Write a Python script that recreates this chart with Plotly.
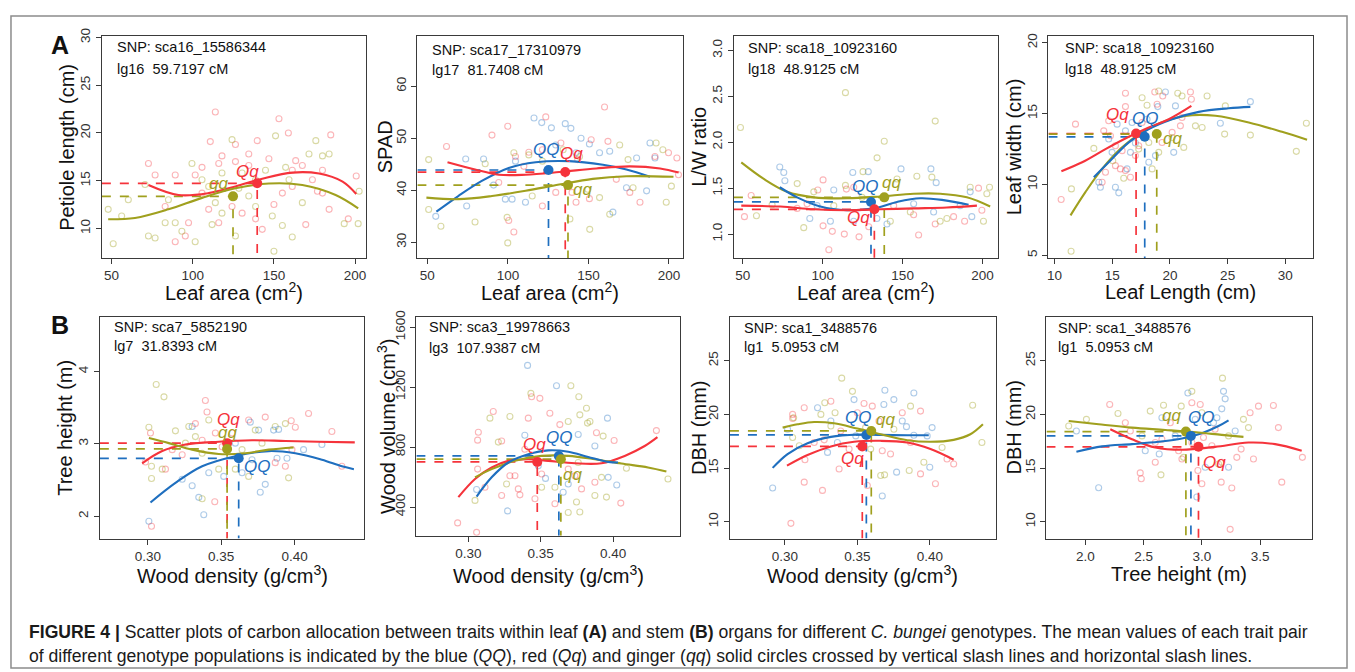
import plotly.graph_objects as go

W, H = 1355, 672
COL = {"QQ": "#1F6FBF", "Qq": "#F5333B", "qq": "#A0A01E"}
PALE = {"QQ": "rgba(31,111,191,0.36)", "Qq": "rgba(245,51,59,0.36)", "qq": "rgba(160,160,30,0.40)"}
FONT = "Liberation Sans, Arial, Helvetica, sans-serif"

# ---------------- Panel A1: Petiole length vs Leaf area ----------------
a1_Qq_pts = [(72.7,16.8),(110.8,19.1),(113.9,22.2),(118,17.6),(126.3,17.0),(134.5,17.8),(139.7,19.2),(153.1,21.5),
             (158.9,20.0),(161.3,16.1),(163.4,17.1),(173.7,15.1),(179.9,16.1),(185,19.8),(89.2,15.6),(101.5,15.6),
             (105.7,13.7),(109.8,12.0),(116,10.6),(124.2,12.3),(130.4,11.6),(138.7,11.0),(142.8,9.9),(150,12.5),
             (155.2,13.7),(161.3,14.4),(169.6,10.4),(179.9,13.7),(184,12.0),(95.4,9.2),(89.2,8.6),(126.3,18.8),
             (134.5,16.6),(146.9,17.3),(97.4,10.6),(167.5,16.6),(176.8,13.9),(105.7,16.4),(116,16.8),(83,12.3),
             (76.8,15.6),(200.7,15.5),(195.8,11.0)]
a1_qq_pts = [(47.9,12.0),(56.2,11.3),(72.7,9.2),(76.8,9.0),(83,10.6),(89.2,10.6),(93.3,9.7),(99.5,16.8),(101.5,8.6),
             (105.7,15.1),(109.8,14.4),(111.9,10.4),(113.9,12.7),(118,11.6),(124.2,19.3),(126.3,9.2),(128.4,14.2),
             (134.5,13.4),(138.7,15.1),(144.8,16.1),(149,11.3),(150,7.6),(155.2,10.3),(159.3,15.1),(161.3,9.1),
             (171.6,17.8),(175.8,19.2),(179.9,17.6),(184,17.8),(60.3,13.0),(70.6,14.6),(85,13.0),(118,15.8),
             (130.4,15.8),(151,19.7),(157.2,16.4),(167.5,12.7),(138.7,12.3),(193.3,10.5),(201.9,10.5),(202.5,13.9),(51,8.4)]
a1_Qq_curve = [(72.7,14.55),(91.2,13.5),(109.8,13.7),(126.3,14.4),(142.8,15.2),(161.3,15.85),(177.8,15.75),(192.3,14.9),(200.7,13.6)]
a1_qq_curve = [(47.9,10.96),(64.4,11.1),(85,12.0),(105.7,13.2),(126.3,14.2),(146.9,14.7),(167.5,14.55),(188,13.5),(201.9,12.1)]
a1_means = [("Qq", 139.7, 14.73), ("qq", 124.8, 13.36)]

# ---------------- Panel A2: SPAD vs Leaf area ----------------
a2_QQ_pts = [(55.2,35.0),(73.8,46.0),(84.9,46.0),(91.1,41.0),(98.4,38.3),(104.7,45.6),(110.9,37.7),(116.2,53.9),(121,53.0),
             (127,52.0),(129.7,48.7),(135.6,52.8),(139.1,51.9),(142.3,47.2),(145.4,50.0),(150.6,48.9),(156.9,47.2),
             (163.2,47.5),(165.2,35.8),(173.6,40.5),(179.9,46.2),(186.1,39.9),(188.2,49.1),(191.3,46.2),(74.4,37.0),(102.6,38.3)]
a2_Qq_pts = [(61.9,48.4),(90.1,50.6),(99.9,52.3),(123.5,54.1),(132.9,49.1),(143.3,45.9),(151.7,49.7),(160,56.0),(162.1,49.4),
             (104.7,46.5),(113,47.3),(121.4,47.8),(100.5,34.2),(103.7,32.0),(109.9,44.6),(121.4,37.0),(129.7,39.6),
             (142.3,37.7),(150.6,38.4),(167.3,42.1),(175.7,39.6),(182,37.7),(191.3,46.5),(199.7,47.2),(204.9,46.2),
             (205.9,43.0),(94.3,41.5),(139.8,39.6)]
a2_qq_pts = [(50.8,36.3),(50.8,45.9),(58.4,33.1),(79.6,33.9),(85.9,45.1),(99.5,34.8),(99.9,29.9),(103.7,47.2),(113,46.8),
             (115.1,38.9),(121.4,45.6),(134.3,47.8),(138.5,34.5),(144.5,46.5),(150.8,32.5),(156.9,38.6),(163.2,35.4),
             (169.4,48.7),(174.6,45.9),(177.7,40.5),(192,49.1),(196.2,47.8),(198.3,37.7),(201.5,40.8),(149.6,40.2)]
a2_QQ_curve = [(55.6,35.9),(69.2,38.9),(83.8,41.8),(100.5,44.3),(117.2,45.4),(138.1,45.6),(159,44.9),(173.6,44.0),(188.2,42.6)]
a2_Qq_curve = [(62.5,45.4),(79.6,44.0),(94.3,43.0),(111,43.0),(131.8,43.5),(154.8,44.2),(175.7,44.6),(194.5,44.2),(206,43.4)]
a2_qq_curve = [(49.4,38.6),(69.2,38.3),(90.1,38.9),(111,39.9),(131.8,41.1),(152.7,42.2),(173.6,42.7),(202.8,42.6)]
a2_means = [("QQ", 125.2, 43.9), ("Qq", 135.6, 43.5), ("qq", 137.3, 41.0)]

# ---------------- Panel A3: L/W ratio vs Leaf area ----------------
a3_QQ_pts = [(73.1,1.73),(76.3,1.58),(75.6,1.67),(118.8,1.67),(128.5,1.68),(149,1.71),(167.7,1.71),(171,1.56),(91.9,1.17),
             (96.5,1.31),(106.9,1.48),(119.4,1.14),(133.9,1.17),(140.2,1.11),(156.9,1.33),(186,1.31),(192.3,1.46),
             (193.3,1.19),(104.8,1.14),(169.4,1.24)]
a3_Qq_pts = [(55.2,1.42),(51,1.19),(100.2,1.59),(96.9,1.48),(114.8,1.49),(119.4,1.51),(100.2,1.09),(103.8,0.83),(106,1.03),
             (113.5,1.0),(122.7,0.97),(128.8,1.08),(160,0.99),(170.4,1.11),(181.9,1.19),(188.8,1.14),(197.5,1.50),
             (199.6,1.26),(144.4,1.31),(156.9,1.21),(90.2,1.33),(84,1.28)]
a3_qq_pts = [(48.5,2.16),(114.2,2.54),(138.5,2.01),(170.4,2.23),(134,1.83),(125.2,1.68),(84,1.55),(114.2,1.53),(146.5,1.60),
             (158.9,1.63),(168.3,1.62),(192.3,1.51),(204.4,1.51),(58.5,1.20),(88.1,1.07),(106.9,1.31),(124.6,1.40),
             (142.3,1.14),(154.8,1.24),(173.5,1.14),(177.7,1.17),(200.6,1.14),(202.7,1.44),(68.3,1.32),(94.4,1.46)]
a3_QQ_curve = [(73.1,1.51),(84,1.40),(98.5,1.30),(115.2,1.26),(131.9,1.28),(146.5,1.35),(161,1.39),(175.6,1.37),(191.3,1.32)]
a3_Qq_curve = [(49,1.31),(73.5,1.30),(94.4,1.27),(115.2,1.26),(136,1.27),(156.9,1.28),(177.7,1.29),(196.5,1.31)]
a3_qq_curve = [(49,1.78),(63.1,1.60),(77.7,1.46),(94.4,1.40),(115.2,1.39),(136,1.41),(156.9,1.44),(173.5,1.44),(190.2,1.40),(204.8,1.30)]
a3_means = [("QQ", 130.2, 1.35), ("Qq", 132.3, 1.27), ("qq", 138.5, 1.40)]

# ---------------- Panel A4: Leaf width vs Leaf length ----------------
a4_Qq_pts = [(10.58,8.93),(11.82,14.25),(16.15,16.43),(16.15,15.49),(18.69,16.52),(19.38,16.24),(21.78,16.52),(21.86,16.01),
             (14.7,14.49),(14.27,13.78),(14.85,13.43),(15.28,12.73),(15.86,12.38),(15.28,11.32),(15.71,11.09),(16.15,10.97),
             (16.58,10.5),(14.42,10.85),(14.13,10.15),(19.32,12.96),(20.19,13.67),(20.91,14.13),(18.89,15.66),(17.59,14.37),
             (17.3,12.73),(17.01,12.03),(21.05,14.72)]
a4_QQ_pts = [(15.43,14.25),(16.72,14.37),(18.02,14.6),(18.95,15.49),(19.61,16.52),(20.48,15.54),(20.33,12.26),(14.99,12.26),
             (13.84,10.15),(13.98,9.8),(15.28,9.8),(15.57,9.4),(16.29,11.09),(16.58,12.26),(14.7,13.2),(16.15,13.78),
             (24.37,14.32),(26.97,15.84),(18.17,11.56),(18.75,12.03),(17.01,12.92)]
a4_qq_pts = [(11.44,5.28),(11.47,9.68),(13.41,12.54),(17.59,16.12),(18.02,15.59),(19.03,16.59),(20.68,16.43),(21.05,16.24),
             (23.22,16.24),(24.8,15.54),(24.74,13.55),(26.97,13.48),(30.95,12.33),(31.82,14.32),(15.05,11.67),(16.0,10.43),
             (17.3,12.49),(19.03,12.26),(20.19,13.31),(21.2,12.61),(22.21,14.13),(22.79,14.02),(18.46,11.09),(18.17,12.96)]
a4_Qq_curve = [(10.6,10.93),(12.4,11.56),(14.42,12.49),(16.44,13.36),(18.17,14.02),(19.9,14.6),(21.86,15.54)]
a4_QQ_curve = [(13.41,10.5),(14.7,11.56),(16.44,12.96),(18.17,13.9),(20.19,14.6),(22.5,15.12),(25.09,15.37),(26.97,15.47)]
a4_qq_curve = [(11.39,7.81),(12.68,9.45),(14.13,11.09),(15.86,12.61),(17.59,13.67),(19.61,14.48),(21.92,14.88),(23.94,14.84),
               (26.83,14.37),(29.71,13.71),(31.88,13.15)]
a4_means = [("Qq", 17.07, 13.59), ("QQ", 17.82, 13.36), ("qq", 18.86, 13.55)]

# ---------------- Panel B1: Tree height vs Wood density ----------------
b1_Qq_pts = [(0.3025,1.86),(0.2984,2.75),(0.3018,3.15),(0.312,2.65),(0.3234,2.85),(0.3324,3.28),(0.3392,3.60),(0.3403,3.44),
             (0.3456,2.20),(0.346,3.15),(0.3574,3.15),(0.3687,3.33),(0.38,3.37),(0.3868,2.74),(0.3937,2.69),(0.3977,3.32),
             (0.4005,3.23),(0.4095,3.42),(0.4254,3.17),(0.4322,2.69),(0.337,3.05),(0.3506,2.96),(0.3166,2.92),(0.3982,2.92)]
b1_QQ_pts = [(0.3007,1.93),(0.3234,2.51),(0.3302,2.42),(0.3302,3.24),(0.3347,2.26),(0.3381,2.02),(0.3415,2.60),(0.3596,3.01),
             (0.3642,2.60),(0.3698,3.30),(0.3755,3.19),(0.3766,2.33),(0.38,2.44),(0.3857,3.19),(0.388,2.80),(0.3891,3.20),
             (0.3948,2.80),(0.4061,2.92),(0.4186,2.99),(0.3517,2.55),(0.371,2.78)]
b1_qq_pts = [(0.3057,3.82),(0.311,3.65),(0.3007,3.23),(0.3025,2.69),(0.3025,2.52),(0.3188,3.18),(0.3279,3.24),(0.337,2.24),
             (0.3483,2.65),(0.3596,2.65),(0.3687,2.55),(0.3732,3.19),(0.3868,3.24),(0.3937,3.28),(0.3959,2.53),(0.337,2.87),
             (0.3415,3.33),(0.3324,3.10),(0.3256,3.01),(0.3642,2.92),(0.3778,3.01),(0.3098,2.65)]
b1_Qq_curve = [(0.2961,2.73),(0.3098,2.90),(0.3256,2.99),(0.3483,3.03),(0.371,3.05),(0.3937,3.04),(0.4163,3.03),(0.441,3.02)]
b1_qq_curve = [(0.3007,3.08),(0.3143,3.01),(0.3302,2.92),(0.3483,2.86),(0.3664,2.87),(0.3823,2.92),(0.3993,2.95)]
b1_QQ_curve = [(0.3018,2.19),(0.3188,2.46),(0.337,2.69),(0.3596,2.83),(0.3823,2.90),(0.4005,2.87),(0.4186,2.78),(0.4322,2.69),(0.4404,2.65)]
b1_means = [("Qq", 0.354, 3.01), ("qq", 0.354, 2.93), ("QQ", 0.3619, 2.80)]

# ---------------- Panel B2: Wood volume vs Wood density ----------------
b2_Qq_pts = [(0.2926,294),(0.3057,231),(0.3069,899),(0.3064,846),(0.3064,653),(0.3115,532),(0.3172,1037),(0.323,840),
             (0.3287,609),(0.3322,609),(0.3345,521),(0.3356,481),(0.339,785),(0.3414,993),(0.3437,1136),(0.3494,1125),
             (0.3506,620),(0.3563,1026),(0.3632,950),(0.3598,422),(0.369,653),(0.3736,609),(0.3782,521),(0.3885,895),
             (0.4007,844),(0.4053,426),(0.4299,910),(0.3874,565),(0.323,477),(0.346,455)]
b2_QQ_pts = [(0.3409,1345),(0.3609,1209),(0.3271,374),(0.3057,517),(0.339,879),(0.3533,591),(0.3655,499),(0.369,554),
             (0.3759,884),(0.3961,993),(0.3966,598),(0.4025,547),(0.3874,807),(0.3483,675)]
b2_qq_pts = [(0.3046,444),(0.3149,993),(0.3287,1004),(0.3207,833),(0.3264,554),(0.3432,1158),(0.3506,532),(0.3598,532),
             (0.3708,1209),(0.369,971),(0.3763,1136),(0.377,1015),(0.3816,1059),(0.3823,960),(0.384,971),(0.3747,433),
             (0.369,363),(0.377,367),(0.3874,477),(0.3954,466),(0.392,598),(0.4092,659),(0.4379,587),(0.3759,697),(0.3931,873)]
b2_Qq_curve = [(0.2931,466),(0.3046,587),(0.3161,664),(0.3276,708),(0.3414,719),(0.3552,708),(0.3736,692),(0.392,692),
               (0.408,741),(0.4218,807),(0.4306,866)]
b2_qq_curve = [(0.3046,598),(0.3161,653),(0.3322,708),(0.3506,741),(0.369,741),(0.3874,719),(0.4057,690),(0.4241,664),(0.4368,637)]
b2_QQ_curve = [(0.3057,470),(0.3161,598),(0.3276,697),(0.3414,752),(0.3552,778),(0.369,769),(0.3828,734),(0.3966,701),(0.4034,697)]
b2_means = [("Qq", 0.3476, 701), ("QQ", 0.3625, 741), ("qq", 0.3639, 719)]

# ---------------- Panel B3: DBH vs Wood density ----------------
b3_QQ_pts = [(0.2915,13.14),(0.3018,18.62),(0.3225,20.62),(0.3294,16.46),(0.3317,19.38),(0.3477,21.38),(0.3489,18.0),
             (0.3683,20.92),(0.369,22.25),(0.3672,12.4),(0.3752,21.38),(0.3771,14.62),(0.381,19.38),(0.3839,18.86),
             (0.389,22.0),(0.389,18.06),(0.3982,18.0),(0.4,15.08),(0.4016,18.77),(0.3362,17.38)]
b3_Qq_pts = [(0.3041,9.85),(0.3053,20.0),(0.3053,19.63),(0.3133,20.62),(0.3133,13.69),(0.3138,15.78),(0.3259,12.92),
             (0.3271,17.63),(0.3317,21.23),(0.3374,14.92),(0.3443,16.77),(0.35,20.15),(0.3546,21.02),(0.3603,20.77),
             (0.3649,19.38),(0.3672,16.62),(0.3729,16.31),(0.381,20.15),(0.3867,17.38),(0.3936,20.31),(0.3936,14.46),
             (0.4039,13.54),(0.4119,15.85),(0.4165,15.38),(0.3569,13.38),(0.3385,18.46),(0.3202,17.38)]
b3_qq_pts = [(0.306,19.69),(0.3053,17.85),(0.3099,17.08),(0.3248,20.0),(0.3275,21.08),(0.3392,23.38),(0.3346,20.15),
             (0.3466,22.15),(0.3557,18.77),(0.3592,16.77),(0.3661,14.31),(0.3688,14.37),(0.3867,20.77),(0.3858,14.77),
             (0.3959,15.54),(0.4085,16.92),(0.4296,20.86),(0.436,17.38),(0.3317,18.92),(0.3752,18.62)]
b3_qq_curve = [(0.2984,18.77),(0.3087,19.08),(0.3202,19.29),(0.3339,19.17),(0.35,18.68),(0.3661,18.15),(0.3844,17.6),
               (0.4005,17.45),(0.4165,17.63),(0.428,18.15),(0.4367,19.08)]
b3_QQ_curve = [(0.2915,15.02),(0.3018,16.31),(0.3156,17.32),(0.3317,17.91),(0.35,18.12),(0.3661,18.09),(0.3844,18.06),(0.3993,18.06)]
b3_Qq_curve = [(0.3014,15.23),(0.3156,16.22),(0.3317,17.02),(0.3477,17.45),(0.3661,17.54),(0.3844,17.38),(0.4005,16.77),(0.4165,15.78)]
b3_means = [("Qq", 0.3534, 17.02), ("QQ", 0.3562, 18.09), ("qq", 0.3596, 18.46)]

# ---------------- Panel B4: DBH vs Tree height ----------------
b4_Qq_pts = [(2.209,20.92),(2.343,19.23),(2.386,18.46),(2.471,14.55),(2.48,14.0),(2.6,15.54),(2.657,17.69),(2.729,19.23),
             (2.8,16.62),(2.914,21.08),(2.986,20.92),(3.0,13.54),(2.966,14.77),(3.014,17.85),(3.086,17.08),(3.166,13.69),
             (3.171,15.54),(3.243,9.29),(3.257,13.14),(3.3,16.0),(3.337,16.77),(3.414,20.15),(3.443,15.85),(3.486,20.77),
             (3.614,20.83),(3.657,18.77),(3.686,13.69),(3.863,16.0),(2.6,17.38),(2.914,17.38),(2.829,15.85),(3.114,18.62)]
b4_QQ_pts = [(1.923,18.46),(2.114,13.17),(2.514,16.62),(2.634,16.31),(2.657,19.69),(2.88,22.0),(2.943,19.54),(2.957,12.31),
             (3.029,15.08),(3.1,19.23),(3.129,19.69),(3.171,20.52),(3.186,22.15),(3.2,21.45),(3.229,15.08),(3.286,18.46),(2.771,18.0)]
b4_qq_pts = [(1.857,18.92),(2.009,19.54),(2.28,20.09),(2.557,20.31),(2.649,14.37),(2.671,20.86),(2.823,20.77),(2.843,16.0),
             (2.914,22.15),(3.143,15.38),(3.177,23.38),(3.229,18.0),(3.357,19.54),(3.4,18.77),(2.486,18.0),(3.0,20.15)]
b4_qq_curve = [(1.857,19.38),(2.114,19.08),(2.4,18.77),(2.686,18.55),(2.971,18.31),(3.171,18.09),(3.357,17.91)]
b4_QQ_curve = [(1.923,16.52),(2.143,17.02),(2.4,17.23),(2.629,17.45),(2.829,17.75),(3.0,18.25),(3.143,18.92),(3.229,19.45)]
b4_Qq_curve = [(2.214,18.62),(2.4,17.69),(2.6,16.92),(2.829,16.71),(3.114,16.98),(3.4,17.38),(3.629,17.23),(3.857,16.62)]
b4_means = [("qq", 2.863, 18.4), ("QQ", 2.906, 18.0), ("Qq", 2.971, 16.98)]

# tick labels
leaf_area_ticks = ["50", "100", "150", "200"]
density_ticks = ["0.30", "0.35", "0.40"]

DATA = {
    "a1": dict(pts={"Qq": a1_Qq_pts, "qq": a1_qq_pts}, curve={"Qq": a1_Qq_curve, "qq": a1_qq_curve}, means=a1_means),
    "a2": dict(pts={"QQ": a2_QQ_pts, "Qq": a2_Qq_pts, "qq": a2_qq_pts}, curve={"QQ": a2_QQ_curve, "Qq": a2_Qq_curve, "qq": a2_qq_curve}, means=a2_means),
    "a3": dict(pts={"QQ": a3_QQ_pts, "Qq": a3_Qq_pts, "qq": a3_qq_pts}, curve={"qq": a3_qq_curve, "QQ": a3_QQ_curve, "Qq": a3_Qq_curve}, means=a3_means),
    "a4": dict(pts={"QQ": a4_QQ_pts, "Qq": a4_Qq_pts, "qq": a4_qq_pts}, curve={"qq": a4_qq_curve, "QQ": a4_QQ_curve, "Qq": a4_Qq_curve}, means=a4_means),
    "b1": dict(pts={"QQ": b1_QQ_pts, "Qq": b1_Qq_pts, "qq": b1_qq_pts}, curve={"QQ": b1_QQ_curve, "Qq": b1_Qq_curve, "qq": b1_qq_curve}, means=b1_means),
    "b2": dict(pts={"QQ": b2_QQ_pts, "Qq": b2_Qq_pts, "qq": b2_qq_pts}, curve={"Qq": b2_Qq_curve, "qq": b2_qq_curve, "QQ": b2_QQ_curve}, means=b2_means),
    "b3": dict(pts={"QQ": b3_QQ_pts, "Qq": b3_Qq_pts, "qq": b3_qq_pts}, curve={"Qq": b3_Qq_curve, "QQ": b3_QQ_curve, "qq": b3_qq_curve}, means=b3_means),
    "b4": dict(pts={"QQ": b4_QQ_pts, "Qq": b4_Qq_pts, "qq": b4_qq_pts}, curve={"Qq": b4_Qq_curve, "QQ": b4_QQ_curve, "qq": b4_qq_curve}, means=b4_means),
}

# layout / style per panel (pixel boxes, ranges, label offsets)
PANELS = [
    dict(key="a1", box=(100, 365, 28, 253), xr=[44, 207], yr=[6.9, 30.2],
         xt=[50, 100, 150, 200], xtt=leaf_area_ticks, yt=[10, 15, 20, 25, 30], ytt=["10", "15", "20", "25", "30"],
         xtitle="Leaf area (cm<sup>2</sup>)", ytitle="Petiole length (cm)", ytx=65,
         snp="SNP: sca16_15586344", lg="lg16\u00a0 59.7197 cM", snp_xy=(113, 39, 62),
         lab={"Qq": (-10, 12), "qq": (-15, 13)}),
    dict(key="a2", box=(416, 682, 28, 253), xr=[43.8, 208.7], yr=[27, 69.7],
         xt=[50, 100, 150, 200], xtt=leaf_area_ticks, yt=[30, 40, 50, 60], ytt=["30", "40", "50", "60"],
         xtitle="Leaf area (cm<sup>2</sup>)", ytitle="SPAD", ytx=383,
         snp="SNP: sca17_17310979", lg="lg17\u00a0 81.7408 cM", snp_xy=(429, 43, 63),
         lab={"QQ": (-2, 20), "Qq": (6, 19), "qq": (15, -4)}),
    dict(key="a3", box=(733, 997, 28, 253), xr=[44.4, 209.4], yr=[0.74, 3.16],
         xt=[50, 100, 150, 200], xtt=leaf_area_ticks, yt=[1.0, 1.5, 2.0, 2.5, 3.0], ytt=["1.0", "1.5", "2.0", "2.5", "3.0"],
         xtitle="Leaf area (cm<sup>2</sup>)", ytitle="L/W ratio", ytx=698,
         snp="SNP: sca18_10923160", lg="lg18\u00a0 48.9125 cM", snp_xy=(745, 40, 62),
         lab={"QQ": (-6, 15), "qq": (7, 15), "Qq": (-16, -8)}),
    dict(key="a4", box=(1048, 1313, 28, 253), xr=[9.48, 32.4], yr=[4.8, 20.5],
         xt=[10, 15, 20, 25, 30], xtt=["10", "15", "20", "25", "30"], yt=[5, 10, 15, 20], ytt=["5", "10", "15", "20"],
         xtitle="Leaf Length (cm)", ytitle="Leaf width (cm)", ytx=1013,
         snp="SNP: sca18_10923160", lg="lg18\u00a0 48.9125 cM", snp_xy=(1063, 40, 62),
         lab={"Qq": (-19, 19), "QQ": (0, 18), "qq": (16, -4)}),
    dict(key="b1", box=(98, 363, 313, 537), xr=[0.2673, 0.4476], yr=[1.69, 4.75],
         xt=[0.30, 0.35, 0.40], xtt=density_ticks, yt=[2, 3, 4], ytt=["2", "3", "4"],
         xtitle="Wood density (g/cm<sup>3</sup>)", ytitle="Tree height (m)", ytx=63,
         snp="SNP: sca7_5852190", lg="lg7\u00a0 31.8393 cM", snp_xy=(110, 323, 342),
         lab={"Qq": (1, 24), "qq": (0, 16), "QQ": (18, -8)}),
    dict(key="b2", box=(415, 679, 313, 534), xr=[0.2641, 0.4462], yr=[209, 1666],
         xt=[0.30, 0.35, 0.40], xtt=density_ticks, yt=[400, 800, 1200, 1600], ytt=["400", "800", "1200", "1600"],
         xtitle="Wood density (g/cm<sup>3</sup>)", ytitle="Wood volume (cm<sup>3</sup>)", ytx=385,
         snp="SNP: sca3_19978663", lg="lg3\u00a0 107.9387 cM", snp_xy=(426, 323, 344),
         lab={"Qq": (-3, 17), "QQ": (0, 18), "qq": (12, -15)}),
    dict(key="b3", box=(729, 995, 313, 537), xr=[0.262, 0.4454], yr=[8.43, 29.05],
         xt=[0.30, 0.35, 0.40], xtt=density_ticks, yt=[10, 15, 20, 25], ytt=["10", "15", "20", "25"],
         xtitle="Wood density (g/cm<sup>3</sup>)", ytitle="DBH (mm)", ytx=698,
         snp="SNP: sca1_3488576", lg="lg1\u00a0 5.0953 cM", snp_xy=(741, 324, 343),
         lab={"QQ": (-8, 17), "qq": (14, 11), "Qq": (-10, -12)}),
    dict(key="b4", box=(1046, 1312, 313, 537), xr=[1.666, 3.946], yr=[8.43, 29.05],
         xt=[2.0, 2.5, 3.0, 3.5], xtt=["2.0", "2.5", "3.0", "3.5"], yt=[10, 15, 20, 25], ytt=["10", "15", "20", "25"],
         xtitle="Tree height (m)", ytitle="DBH (mm)", ytx=1013,
         snp="SNP: sca1_3488576", lg="lg1\u00a0 5.0953 cM", snp_xy=(1056, 324, 343),
         lab={"qq": (-14, 16), "QQ": (10, 18), "Qq": (16, -16)}),
]


def px(x):
    return x / W


def py(y):
    return 1 - y / H


fig = go.Figure()
layout = {}
ann = []
AXLINE = "#3a3a3a"

for i, p in enumerate(PANELS, start=1):
    sfx = "" if i == 1 else str(i)
    xa, ya = "x" + sfx, "y" + sfx
    d = DATA[p["key"]]
    x0, x1, y0, y1 = p["box"]
    # scatter of individuals
    for g, pts in d["pts"].items():
        fig.add_trace(go.Scatter(
            x=[a for a, _ in pts], y=[b for _, b in pts], mode="markers",
            marker=dict(symbol="circle-open", size=6, color=PALE[g], line=dict(width=1.1)),
            xaxis=xa, yaxis=ya, showlegend=False, hoverinfo="skip"))
    # dashed guide lines from axes to the genotype means
    for g, mx, my in d["means"]:
        fig.add_trace(go.Scatter(
            x=[p["xr"][0], mx, mx], y=[my, my, p["yr"][0]], mode="lines",
            line=dict(color=COL[g], width=1.7, dash="dash"),
            xaxis=xa, yaxis=ya, showlegend=False, hoverinfo="skip"))
    # smooth fits
    for g, cv in d["curve"].items():
        fig.add_trace(go.Scatter(
            x=[a for a, _ in cv], y=[b for _, b in cv], mode="lines",
            line=dict(color=COL[g], width=2.1, shape="spline", smoothing=1.0),
            xaxis=xa, yaxis=ya, showlegend=False, hoverinfo="skip"))
    # mean points + labels
    for g, mx, my in d["means"]:
        fig.add_trace(go.Scatter(
            x=[mx], y=[my], mode="markers", marker=dict(color=COL[g], size=10),
            xaxis=xa, yaxis=ya, showlegend=False, hoverinfo="skip"))
        dx, dy = p["lab"][g]
        ann.append(dict(x=mx, y=my, xref=xa, yref=ya, xshift=dx, yshift=dy, showarrow=False,
                        text="<i>%s</i>" % g, font=dict(family=FONT, size=17, color=COL[g])))

    common = dict(showline=True, mirror=True, linecolor=AXLINE, linewidth=1.3, ticks="outside", ticklen=5,
                  tickwidth=1.2, tickcolor=AXLINE, showgrid=False, zeroline=False,
                  tickfont=dict(family=FONT, size=13.5, color="#333333"))
    layout["xaxis" + sfx] = dict(common, domain=[px(x0), px(x1)], range=p["xr"], anchor=ya,
                                 tickmode="array", tickvals=p["xt"], ticktext=p["xtt"])
    layout["yaxis" + sfx] = dict(common, domain=[py(y1), py(y0)], range=p["yr"], anchor=xa,
                                 tickmode="array", tickvals=p["yt"], ticktext=p["ytt"], tickangle=-90)
    # axis titles
    title_y = 287 if y0 < 300 else 573
    ann.append(dict(x=px((x0 + x1) / 2), y=py(title_y), xref="paper", yref="paper", showarrow=False,
                    text=p["xtitle"], font=dict(family=FONT, size=20, color="#111111"),
                    xanchor="center", yanchor="middle"))
    ann.append(dict(x=px(p["ytx"]), y=py((y0 + y1) / 2), xref="paper", yref="paper", showarrow=False,
                    text=p["ytitle"], textangle=-90, font=dict(family=FONT, size=20, color="#111111"),
                    xanchor="center", yanchor="middle"))
    sx, sy1, sy2 = p["snp_xy"]
    for txt, yy in ((p["snp"], sy1), (p["lg"], sy2)):
        ann.append(dict(x=px(sx), y=py(yy), xref="paper", yref="paper", showarrow=False, text=txt,
                        font=dict(family=FONT, size=14.5, color="#111111"), xanchor="left", yanchor="middle"))

# panel letters
for letter, yy in (("A", 37), ("B", 321)):
    ann.append(dict(x=px(58), y=py(yy), xref="paper", yref="paper", showarrow=False, text="<b>%s</b>" % letter,
                    font=dict(family=FONT, size=25, color="#111111"), xanchor="center", yanchor="middle"))

# caption
cap1 = ("<b>FIGURE 4 |</b> Scatter plots of carbon allocation between traits within leaf <b>(A)</b> and stem "
        "<b>(B)</b> organs for different <i>C. bungei</i> genotypes. The mean values of each trait pair")
cap2 = ("of different genotype populations is indicated by the blue (<i>QQ</i>), red (<i>Qq</i>) and ginger "
        "(<i>qq</i>) solid circles crossed by vertical slash lines and horizontal slash lines.")
for txt, yy in ((cap1, 632), (cap2, 656)):
    ann.append(dict(x=px(25), y=py(yy), xref="paper", yref="paper", showarrow=False, text=txt,
                    font=dict(family=FONT, size=17.6, color="#1a1a1a"), xanchor="left", yanchor="middle"))

shapes = [dict(type="rect", xref="paper", yref="paper", x0=px(9), x1=px(1347), y0=py(668), y1=py(8),
               line=dict(color="#8c8c8c", width=1.5), fillcolor="rgba(0,0,0,0)", layer="below")]

fig.update_layout(width=W, height=H, margin=dict(l=0, r=0, t=0, b=0), paper_bgcolor="white",
                  plot_bgcolor="white", showlegend=False, annotations=ann, shapes=shapes, **layout)
fig.write_html("out.html", include_plotlyjs=True, config={"displayModeBar": False})
